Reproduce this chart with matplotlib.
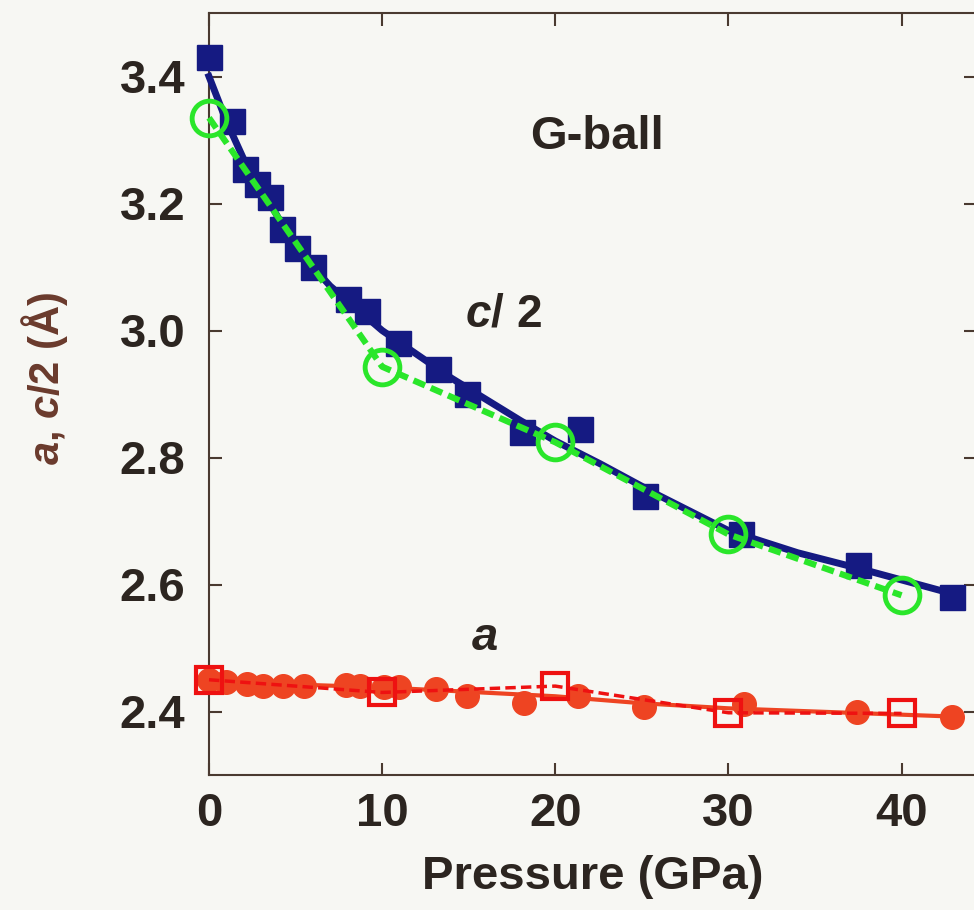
import matplotlib
matplotlib.use('Agg')
import matplotlib.pyplot as plt

# c/2 measured (blue squares)
c_p = [0, 1.3, 2.1, 2.8, 3.5, 4.2, 5.1, 6.0, 8.0, 9.1, 10.9, 13.2, 14.9, 18.1, 21.4, 25.2, 30.7, 37.5, 42.9]
c_val = [3.43, 3.33, 3.255, 3.23, 3.21, 3.16, 3.13, 3.10, 3.05, 3.03, 2.98, 2.94, 2.90, 2.84, 2.845, 2.74, 2.68, 2.63, 2.58]
# smooth curve through c/2 data
cfit_p = [0, 1, 2, 3, 5, 7, 10, 14, 18, 20, 22.6, 26, 30, 34, 38, 43]
cfit_val = [3.40, 3.33, 3.27, 3.225, 3.13, 3.07, 3.00, 2.925, 2.858, 2.826, 2.79, 2.74, 2.685, 2.65, 2.622, 2.585]
# c/2 calculated (green circles)
cc_p = [0, 10, 20, 30, 40]
cc_val = [3.335, 2.943, 2.824, 2.679, 2.583]

# a measured (red circles)
a_p = [0, 1.0, 2.2, 3.1, 4.3, 5.5, 7.9, 8.7, 10.1, 11.0, 13.1, 14.9, 18.2, 21.3, 25.1, 30.9, 37.4, 42.9]
a_val = [2.449, 2.447, 2.443, 2.440, 2.440, 2.440, 2.442, 2.440, 2.438, 2.438, 2.435, 2.424, 2.413, 2.424, 2.407, 2.412, 2.399, 2.392]
afit_p = [0, 10, 20, 25, 30, 38, 43]
afit_val = [2.447, 2.438, 2.424, 2.413, 2.405, 2.397, 2.392]
# a calculated (red open squares)
ac_p = [0, 10, 20, 30, 40]
ac_val = [2.450, 2.430, 2.440, 2.398, 2.397]

xticks = [0, 10, 20, 30, 40]
yticks = [2.4, 2.6, 2.8, 3.0, 3.2, 3.4]

bg = '#f7f7f3'
ink = '#2c2520'
plt.rcParams['font.family'] = ['Liberation Sans', 'DejaVu Sans']
plt.rcParams['mathtext.fontset'] = 'custom'
plt.rcParams['mathtext.it'] = 'Liberation Sans:italic:bold'
plt.rcParams['mathtext.rm'] = 'Liberation Sans:bold'
plt.rcParams['mathtext.bf'] = 'Liberation Sans:bold'

fig = plt.figure(figsize=(9.74, 9.10), dpi=100, facecolor=bg)
ax = fig.add_axes([209/974, 1 - 775/910, 767/974, (775 - 13)/910])
ax.set_facecolor(bg)

navy = '#151a82'
green = '#2ae62a'
orange = '#ee4422'
red = '#ee1111'

ax.plot(c_p, c_val, 's', color=navy, ms=18, mec=navy, zorder=3, clip_on=False)
ax.plot(cfit_p, cfit_val, '-', color=navy, lw=5, zorder=3, clip_on=False)
ax.plot(cc_p, cc_val, 'o', ls=(0, (2.0, 1.0)), color=green, lw=4.5, ms=25,
        mfc='none', mec=green, mew=3.5, zorder=4, clip_on=False)

ax.plot(a_p, a_val, 'o', color=orange, ms=17, mec=orange, zorder=3, clip_on=False)
ax.plot(afit_p, afit_val, '-', color=orange, lw=3, zorder=3, clip_on=False)
ax.plot(ac_p, ac_val, 's', ls=(0, (3, 1.5)), color=red, lw=2.5, ms=19,
        mfc='none', mec=red, mew=3, zorder=4, clip_on=False)

ax.set_xlim(0, 44.3)
ax.set_ylim(2.3, 3.5)
ax.set_xticks(xticks)
ax.set_yticks(yticks)
ax.set_xticklabels([str(t) for t in xticks])
ax.set_yticklabels(['%.1f' % t for t in yticks])
ax.tick_params(direction='in', length=9, width=1.5, color='#4a3a30',
               top=True, right=True, labelsize=34, labelcolor=ink, pad=12)
ax.tick_params(axis='y', pad=17)
for lab in ax.get_xticklabels() + ax.get_yticklabels():
    lab.set_fontweight('bold')
for s in ax.spines.values():
    s.set_color('#4a3a30')
    s.set_linewidth(1.5)

ax.set_xlabel('Pressure (GPa)', fontsize=34, fontweight='bold', color=ink, labelpad=14)
fig.text(45/974, 1 - 378/910, r'$\mathit{a}$, $\mathit{c}$/2 (Å)', rotation=90,
         fontsize=30, fontweight='bold', color='#6a3a2c', ha='center', va='center')

ax.text(22.4, 3.304, 'G-ball', fontsize=34, fontweight='bold', color=ink, ha='center', va='center')
ax.text(17.0, 3.025, r'$\mathit{c}$/ 2', fontsize=33, fontweight='bold', color=ink, ha='center', va='center')
ax.text(15.9, 2.516, r'$\mathit{a}$', fontsize=34, fontweight='bold', color=ink, ha='center', va='center')

fig.savefig('out.png', dpi=100, facecolor=bg)
